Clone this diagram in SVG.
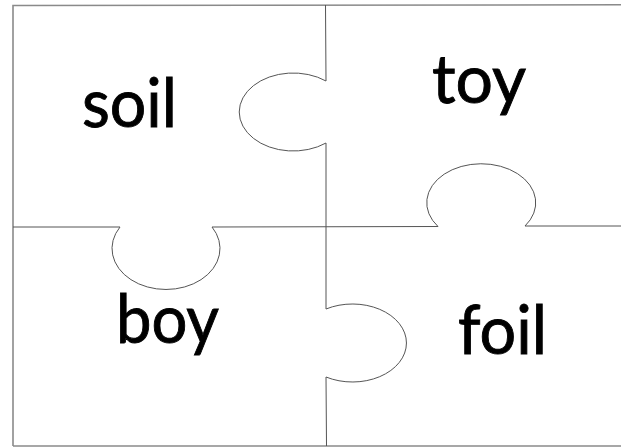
<svg xmlns="http://www.w3.org/2000/svg" width="621" height="448" viewBox="0 0 621 448">
  <style>
    .frame { fill: none; stroke: #8a8a8a; stroke-width: 1.6; }
    .cut { fill: none; stroke: #555; stroke-width: 1; }
    .word { font-family: Lato, "Open Sans", sans-serif; font-size: 67px; fill: #000; stroke: #000; stroke-width: 0.9; }
  </style>
  <rect width="621" height="448" fill="#fff"/>
  <g id="cuts">
    <path class="frame" d="M13,446 L13,5.5 L621,4.8"/>
    <path class="frame" d="M13,446 L621,446"/>
    <path id="cut-vertical" class="cut" d="M325.5,5 L326,81 A54,39 0 1 0 326,143 L326,309 A54,39 0 1 1 326,377 L326.5,446"/>
    <path id="cut-horizontal" class="cut" d="M13,227 L120,227 A54,41 0 1 0 212,227 L438,226.5 A54.5,39 0 1 1 525,226 L621,226"/>
  </g>
  <g id="piece-soil">
    <text class="word" x="82" y="127" textLength="95" lengthAdjust="spacingAndGlyphs">soil</text>
  </g>
  <g id="piece-toy">
    <text class="word" x="432" y="103" textLength="94" lengthAdjust="spacingAndGlyphs">toy</text>
  </g>
  <g id="piece-boy">
    <text class="word" x="116" y="343" textLength="103" lengthAdjust="spacingAndGlyphs">boy</text>
  </g>
  <g id="piece-foil">
    <text class="word" x="458" y="354" textLength="89" lengthAdjust="spacingAndGlyphs">foil</text>
  </g>
</svg>
